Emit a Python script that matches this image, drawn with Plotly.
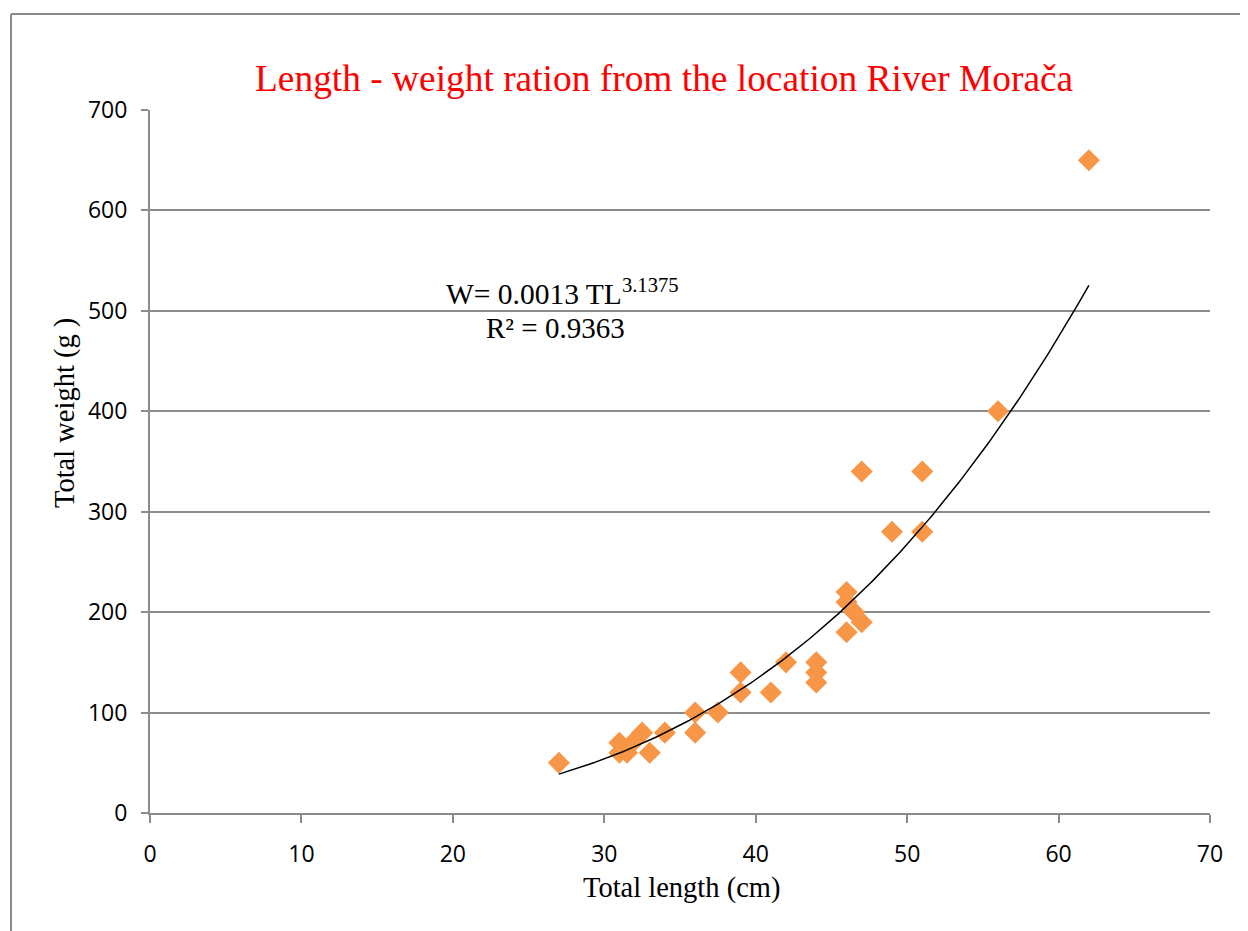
import numpy as np
import plotly.graph_objects as go

# Data
total_length = [27, 31, 31, 31.5, 32, 32.5, 33, 34, 36, 36, 37.5, 39, 39, 41, 42,
                44, 44, 44, 46, 46, 46, 46.5, 47, 47, 49, 51, 51, 56, 62]
total_weight = [50, 70, 60, 60, 72, 80, 60, 80, 100, 80, 100, 140, 120, 120, 150,
                150, 140, 130, 220, 210, 180, 200, 190, 340, 280, 340, 280, 400, 650]

# Power trendline W = a * TL^b (label shows a rounded to 0.0013; curve drawn reads ~0.00125)
fit_a = 0.00125
fit_b = 3.1375
fit_label = "W= 0.0013 TL<sup>3.1375</sup>"
r2_label = "R² = 0.9363"

x_ticks = [0, 10, 20, 30, 40, 50, 60, 70]
y_ticks = [0, 100, 200, 300, 400, 500, 600, 700]

tl_fit = np.linspace(min(total_length), max(total_length), 200)
w_fit = fit_a * tl_fit ** fit_b

# page body has an 8px default margin; figure sized to compensate
W, H = 1240, 923
L, T, PW, PH = 142, 102, 1060, 703

fig = go.Figure()
fig.add_trace(go.Scatter(
    x=total_length, y=total_weight, mode="markers",
    marker=dict(symbol="diamond", size=17, color="#F79646", line=dict(width=0)),
    showlegend=False, cliponaxis=False))
fig.add_trace(go.Scatter(
    x=tl_fit, y=w_fit, mode="lines",
    line=dict(color="black", width=1.5), showlegend=False))

grid = "#8C8C8C"
serif = "Liberation Serif"
fig.update_layout(
    width=W, height=H,
    margin=dict(l=L, r=W - L - PW, t=T, b=H - T - PH),
    paper_bgcolor="white", plot_bgcolor="white",
    title=dict(text="Length - weight ration from the location River Morača",
               font=dict(family=serif, size=37.4, color="#FF0000"),
               x=0.485, xanchor="center", xref="paper", y=1 - 70 / H, yanchor="middle"),
    xaxis=dict(range=[0, 70], tickvals=x_ticks, showgrid=False,
               showline=True, linecolor=grid, linewidth=2,
               ticks="outside", ticklen=8, tickcolor=grid, tickwidth=2,
               ticklabelstandoff=11,
               tickfont=dict(family="Open Sans", size=23, color="black"),
               zeroline=False, fixedrange=True),
    yaxis=dict(range=[0, 700], tickvals=y_ticks, showgrid=True,
               gridcolor=grid, gridwidth=1.5,
               showline=True, linecolor=grid, linewidth=2,
               ticks="outside", ticklen=7, tickcolor=grid, tickwidth=2,
               ticklabelstandoff=9,
               tickfont=dict(family="Open Sans", size=23, color="black"),
               zeroline=False, fixedrange=True),
    annotations=[
        dict(x=27.27, y=519, xref="x", yref="y",
             text=fit_label, showarrow=False,
             xanchor="center", yanchor="middle",
             font=dict(family=serif, size=29.5, color="black")),
        dict(x=26.8, y=483, xref="x", yref="y",
             text=r2_label, showarrow=False,
             xanchor="center", yanchor="middle",
             font=dict(family=serif, size=29, color="black")),
        dict(x=(681 - 8 - L) / PW, y=(T + PH - 880) / PH, xref="paper", yref="paper",
             text="Total length (cm)", showarrow=False,
             xanchor="center", yanchor="middle",
             font=dict(family=serif, size=28.5, color="black")),
        dict(x=(57 - L) / PW, y=(T + PH - 405) / PH, xref="paper", yref="paper",
             text="Total weight (g )", showarrow=False, textangle=-90,
             xanchor="center", yanchor="middle",
             font=dict(family=serif, size=28.5, color="black")),
    ],
    shapes=[
        dict(type="line", xref="paper", yref="paper",
             x0=(3 - L) / PW, x1=1.2, y0=(T + PH - 6) / PH, y1=(T + PH - 6) / PH,
             line=dict(color=grid, width=2)),
        dict(type="line", xref="paper", yref="paper",
             x0=(3 - L) / PW, x1=(3 - L) / PW, y0=(T + PH - 6) / PH, y1=-0.3,
             line=dict(color=grid, width=2)),
    ],
)

fig.write_html("out.html")
